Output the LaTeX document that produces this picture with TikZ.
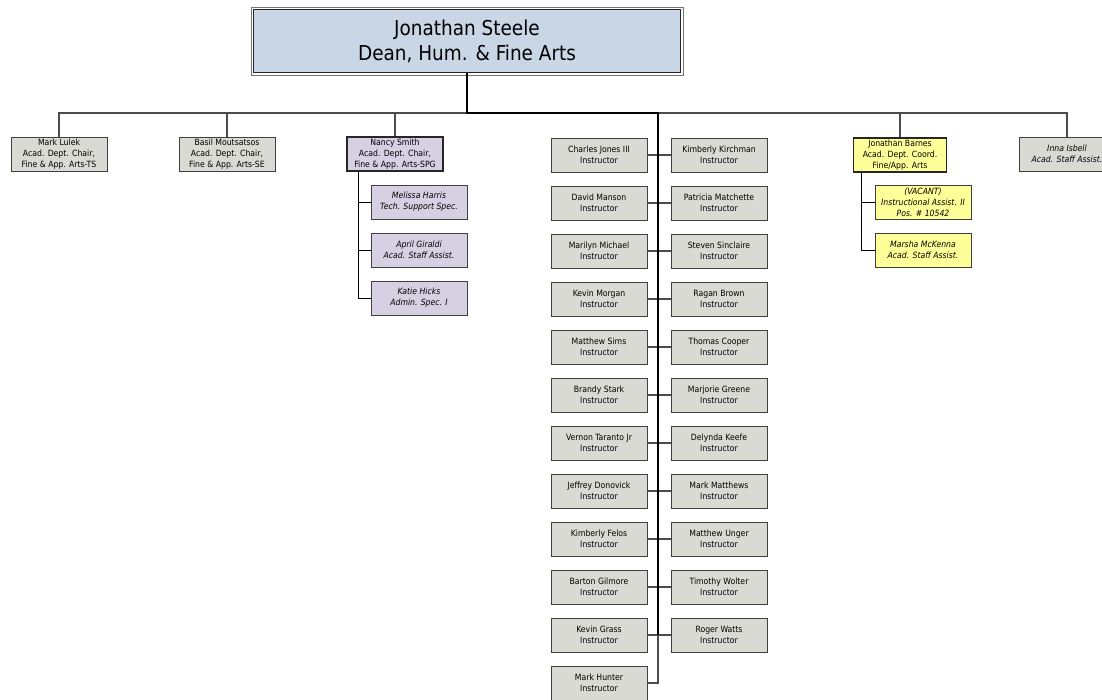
\documentclass[tikz,border=0pt]{standalone}
\usepackage{fontspec}
\setmainfont{DejaVu Sans Condensed}
\definecolor{boxgray}{HTML}{D9DAD4}
\definecolor{boxpurple}{HTML}{D7CFE2}
\definecolor{boxyellow}{HTML}{FFFF99}
\definecolor{deanblue}{HTML}{C9D6E6}
\tikzset{
  person/.style={draw=black!75, line width=0.8, fill=boxgray, minimum width=96, minimum height=34,
    inner sep=0, align=center, font=\fontsize{8.6}{10.8}\selectfont},
  chair/.style={person, draw=black!85, line width=1.8},
  purplebox/.style={person, fill=boxpurple, font=\fontsize{8.6}{10.8}\selectfont\itshape},
  yellowbox/.style={person, fill=boxyellow, font=\fontsize{8.6}{10.8}\selectfont\itshape},
  staffbox/.style={person, font=\fontsize{8.6}{10.8}\selectfont\itshape},
  dean/.style={draw=black!85, line width=1, fill=deanblue, minimum width=427, minimum height=63,
    inner sep=0, align=center, font=\fontsize{20.5}{25}\selectfont},
  conn/.style={draw=black!70, line width=1.1},
  trunk/.style={draw=black, line width=2},
  sub/.style={draw=black, line width=0.9}
}
\begin{document}
\begin{tikzpicture}[x=1pt,y=-1pt]
\useasboundingbox (0,0) rectangle (1102,699);
% dean
\node[dean] (dean) at (467,41) {Jonathan Steele\\Dean, Hum. \& Fine Arts};
\draw[black!55, line width=0.6] ([shift={(-2,-2)}]dean.north west) rectangle ([shift={(2,2)}]dean.south east);
\coordinate (hub) at (467,113);
\coordinate (trunktop) at (658,113);
% top row
\node[person] (lulek) at (59,154) {Mark Lulek\\Acad. Dept. Chair,\\Fine \& App. Arts-TS};
\node[person] (basil) at (227,154) {Basil Moutsatsos\\Acad. Dept. Chair,\\Fine \& App. Arts-SE};
\node[chair, fill=boxpurple] (nancy) at (395,154) {Nancy Smith\\Acad. Dept. Chair,\\Fine \& App. Arts-SPG};
\node[chair, fill=boxyellow, minimum width=93] (barnes) at (900,155) {Jonathan Barnes\\Acad. Dept. Coord.\\Fine/App. Arts};
\node[staffbox] (inna) at (1067,154) {Inna Isbell\\Acad. Staff Assist.};
% Nancy's staff
\node[purplebox] (melissa) at (419,202) {Melissa Harris\\Tech. Support Spec.};
\node[purplebox] (april) at (419,250) {April Giraldi\\Acad. Staff Assist.};
\node[purplebox] (katie) at (419,298) {Katie Hicks\\Admin. Spec. I};
% Barnes' staff
\node[yellowbox] (vacant) at (923,202) {(VACANT)\\Instructional Assist. II\\Pos. \# 10542};
\node[yellowbox] (marsha) at (923,250) {Marsha McKenna\\Acad. Staff Assist.};
% instructors
\foreach \nm/\txt [count=\k from 0] in {charles/Charles Jones III, david/David Manson, marilyn/Marilyn Michael,
  kmorgan/Kevin Morgan, msims/Matthew Sims, brandy/Brandy Stark, vernon/Vernon Taranto Jr,
  jeffrey/Jeffrey Donovick, kfelos/Kimberly Felos, barton/Barton Gilmore, kgrass/Kevin Grass,
  hunter/Mark Hunter}
  \node[person] (\nm) at (599,155+48*\k) {\txt\\Instructor};
\foreach \nm/\txt [count=\k from 0] in {kirchman/Kimberly Kirchman, patricia/Patricia Matchette,
  steven/Steven Sinclaire, ragan/Ragan Brown, thomas/Thomas Cooper, marjorie/Marjorie Greene,
  delynda/Delynda Keefe, mmatthews/Mark Matthews, unger/Matthew Unger, wolter/Timothy Wolter,
  watts/Roger Watts}
  \node[person] (\nm) at (719,155+48*\k) {\txt\\Instructor};
% connectors
\draw[conn] (lulek.north) |- (hub);
\draw[conn] (basil.north) |- (hub);
\draw[conn] (nancy.north) |- (hub);
\draw[conn] (barnes.north) |- (trunktop);
\draw[conn] (inna.north) |- (trunktop);
\foreach \a/\b in {charles/kirchman, david/patricia, marilyn/steven, kmorgan/ragan, msims/thomas,
  brandy/marjorie, vernon/delynda, jeffrey/mmatthews, kfelos/unger, barton/wolter, kgrass/watts}
  \draw[conn] (\a.east) -- (\b.west);
\draw[conn] (trunktop |- watts.west) |- (hunter.east);
\draw[trunk] (dean.south) -- (hub) -- (trunktop) -- (trunktop |- watts.west);
\draw[sub] ([xshift=12]nancy.south west) |- (melissa.west);
\draw[sub] ([xshift=12]nancy.south west) |- (april.west);
\draw[sub] ([xshift=12]nancy.south west) |- (katie.west);
\draw[sub] ([xshift=9]barnes.south west) |- (vacant.west);
\draw[sub] ([xshift=9]barnes.south west) |- (marsha.west);
\end{tikzpicture}
\end{document}
